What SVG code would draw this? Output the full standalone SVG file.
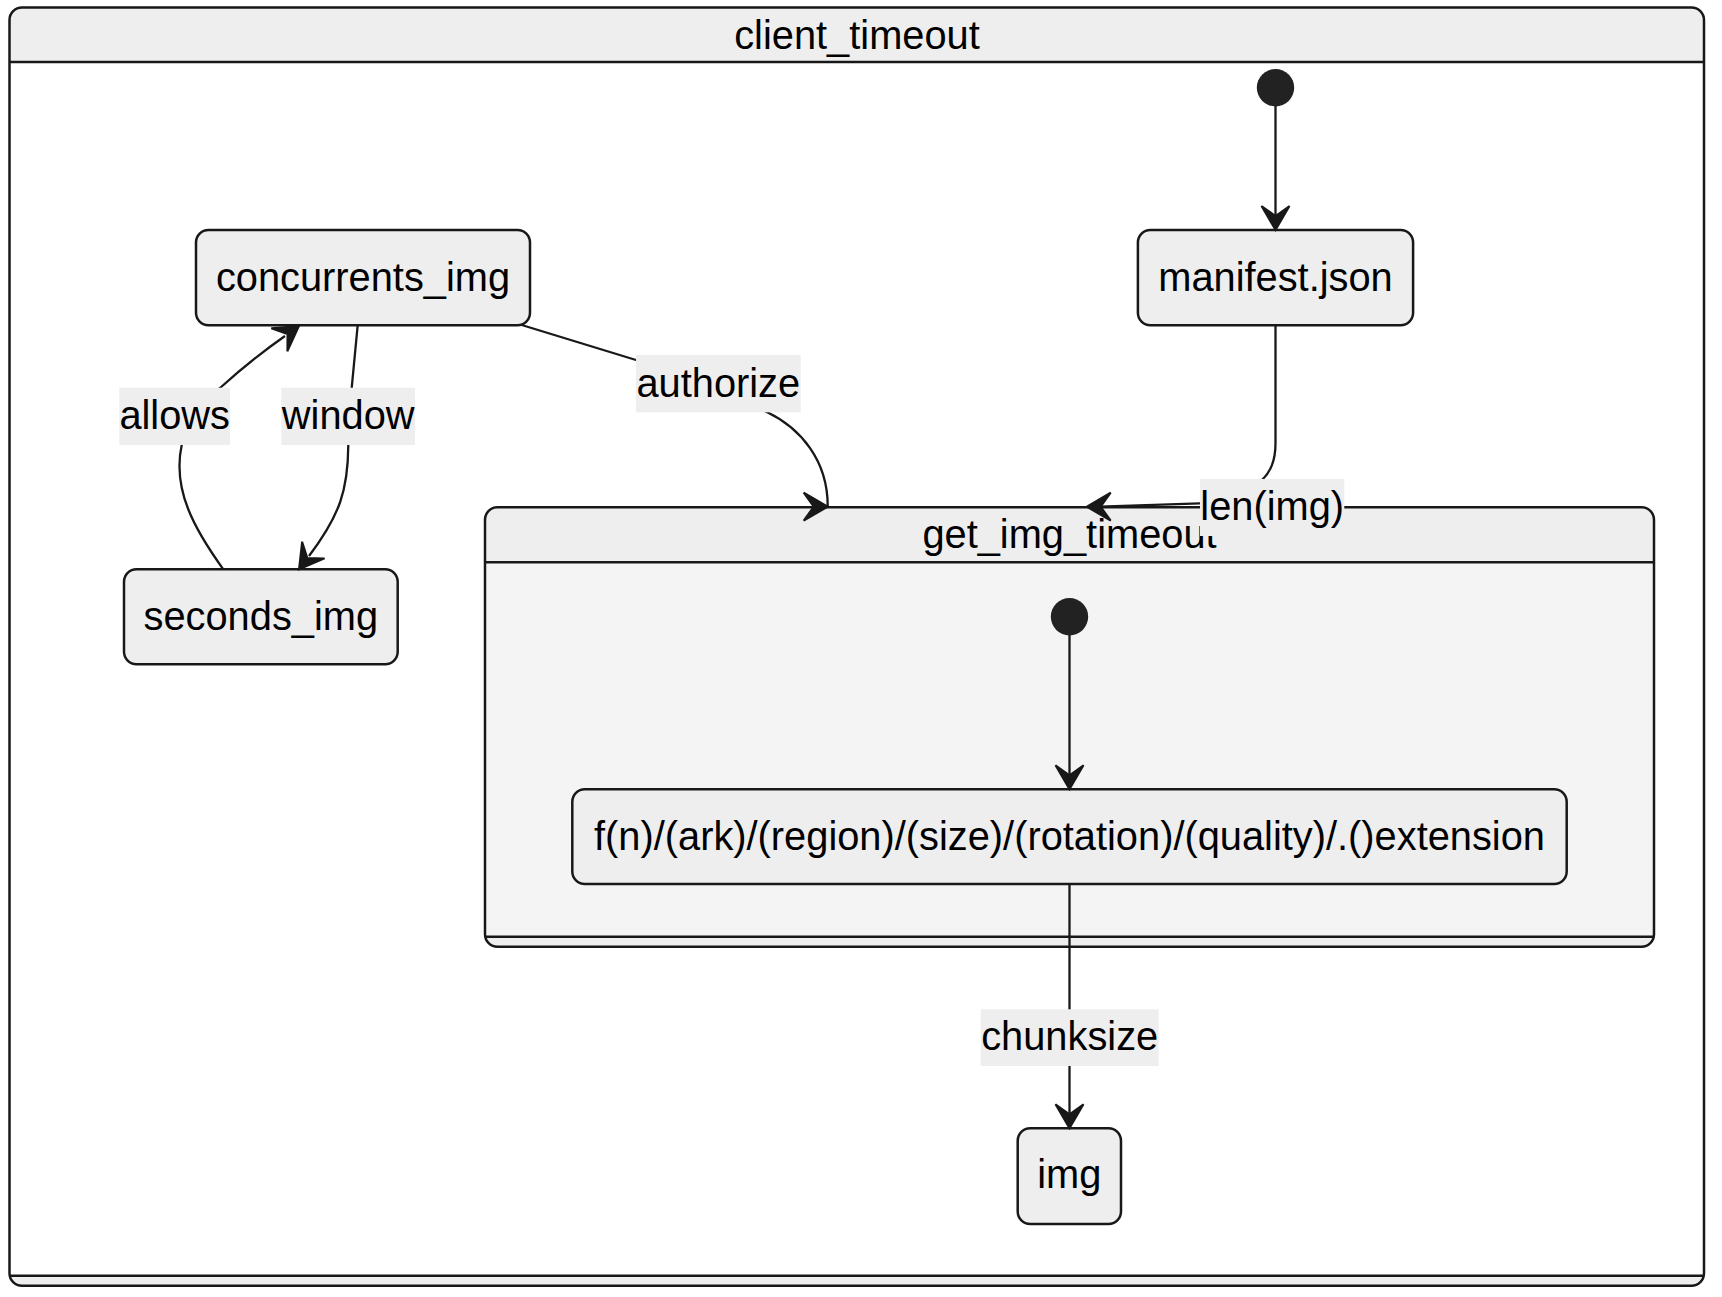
<svg xmlns="http://www.w3.org/2000/svg" xmlns:xlink="http://www.w3.org/1999/xlink" width="1722" height="1297" viewBox="0 0 1722 1297">
<style>
text{font-family:"Liberation Sans",Arial,sans-serif;font-size:39.8px;fill:#000000;text-anchor:middle}
.node{fill:#EEEEEE;stroke:#181818;stroke-width:2.5}
.init{fill:#222222;stroke:none}
.hdr{fill:#EEEEEE;stroke:none}
.frame{fill:none;stroke:#181818;stroke-width:2.5}
.sep{stroke:#181818;stroke-width:2.5}
.edge{fill:none;stroke:#181818;stroke-width:2.3}
.lbl{fill:#EEEEEE;stroke:none}
.ah{fill:#181818;stroke:#181818;stroke-width:2;stroke-linejoin:miter}
</style>
<defs>
<path id="ah" class="ah" d="M0,0 L-24,-14 L-14,0 L-24,14 Z"/>
</defs>
<rect width="1722" height="1297" fill="#FFFFFF"/>
<g id="client_timeout">
<rect class="hdr" x="9.5" y="7.5" width="1694.5" height="1278.2" rx="12.5"/>
<rect x="9.5" y="62" width="1694.5" height="1213.7" fill="#FFFFFF"/>
<rect class="frame" x="9.5" y="7.5" width="1694.5" height="1278.2" rx="12.5"/>
<line class="sep" x1="9.5" y1="62" x2="1704" y2="62"/>
<line class="sep" x1="9.5" y1="1275.7" x2="1704" y2="1275.7"/>
<text x="857" y="49.3">client_timeout</text>
</g>
<g id="get_img_timeout">
<rect class="hdr" x="485" y="507.3" width="1169" height="439.4" rx="12.5"/>
<rect x="485" y="562.3" width="1169" height="374.4" fill="#F4F4F4"/>
<rect class="frame" x="485" y="507.3" width="1169" height="439.4" rx="12.5"/>
<line class="sep" x1="485" y1="562.3" x2="1654" y2="562.3"/>
<line class="sep" x1="485" y1="936.7" x2="1654" y2="936.7"/>
<text x="1069.5" y="548">get_img_timeout</text>
</g>
<g id="init_outer"><circle class="init" cx="1275.5" cy="87.7" r="18.7"/></g>
<g id="concurrents_img">
<rect class="node" x="196" y="230" width="334" height="95.3" rx="12.5"/>
<text x="363" y="290.7">concurrents_img</text>
</g>
<g id="seconds_img">
<rect class="node" x="124" y="569.3" width="273.7" height="95" rx="12.5"/>
<text x="260.8" y="630">seconds_img</text>
</g>
<g id="manifest_json">
<rect class="node" x="1137.9" y="230" width="275.2" height="95.3" rx="12.5"/>
<text x="1275.5" y="290.7">manifest.json</text>
</g>
<g id="init_inner"><circle class="init" cx="1069.5" cy="616.7" r="18.7"/></g>
<g id="fn_path">
<rect class="node" x="572.3" y="789.3" width="994.4" height="94.7" rx="12.5"/>
<text x="1069.5" y="850">f(n)/(ark)/(region)/(size)/(rotation)/(quality)/.()extension</text>
</g>
<g id="img">
<rect class="node" x="1017.7" y="1128.3" width="103.3" height="95.7" rx="12.5"/>
<text x="1069.3" y="1188.3">img</text>
</g>
<g id="connectors">
<path class="edge" d="M1275.5,106 L1275.5,216"/>
<use xlink:href="#ah" href="#ah" transform="translate(1275.5,230) rotate(90)"/>

<path class="edge" d="M223.3,569.3 C195,530 172,490 181.7,445 C186,420 200,404 220,388 C240,370 262,352 285,336"/>
<use xlink:href="#ah" href="#ah" transform="translate(299,326) rotate(-35)"/>
<rect class="lbl" x="119.3" y="387.7" width="110.7" height="57.3"/>
<text x="174.7" y="429">allows</text>

<path class="edge" d="M357.7,325 L351.7,388 L348.3,445 C348,490 340,515 309,556"/>
<use xlink:href="#ah" href="#ah" transform="translate(299,569.3) rotate(126.7)"/>
<rect class="lbl" x="281.3" y="387.7" width="133.7" height="57.3"/>
<text x="348.2" y="429">window</text>

<path class="edge" d="M521.7,325 L636,360 C700,380 740,395 767.3,412.3 C800,428 828,460 827.7,506.7"/>
<use xlink:href="#ah" href="#ah" transform="translate(827.7,506.7)"/>
<rect class="lbl" x="636" y="355" width="164.7" height="57.3"/>
<text x="718.3" y="396.7">authorize</text>

<path class="edge" d="M1275.5,325 L1275.5,443 C1275.5,462 1270,472 1262,480 C1245,498 1225,502 1200,503.3 L1100,506.7"/>
<use xlink:href="#ah" href="#ah" transform="translate(1086.7,506.7) rotate(180)"/>
<rect class="lbl" x="1200" y="479" width="144.3" height="57"/>
<text x="1272.2" y="520">len(img)</text>

<path class="edge" d="M1069.5,635 L1069.5,776"/>
<use xlink:href="#ah" href="#ah" transform="translate(1069.5,789.3) rotate(90)"/>

<path class="edge" d="M1069.5,884 L1069.5,1115"/>
<use xlink:href="#ah" href="#ah" transform="translate(1069.5,1128.3) rotate(90)"/>
<rect class="lbl" x="980.7" y="1009.3" width="178" height="56.7"/>
<text x="1069.7" y="1050">chunksize</text>
</g>
</svg>
